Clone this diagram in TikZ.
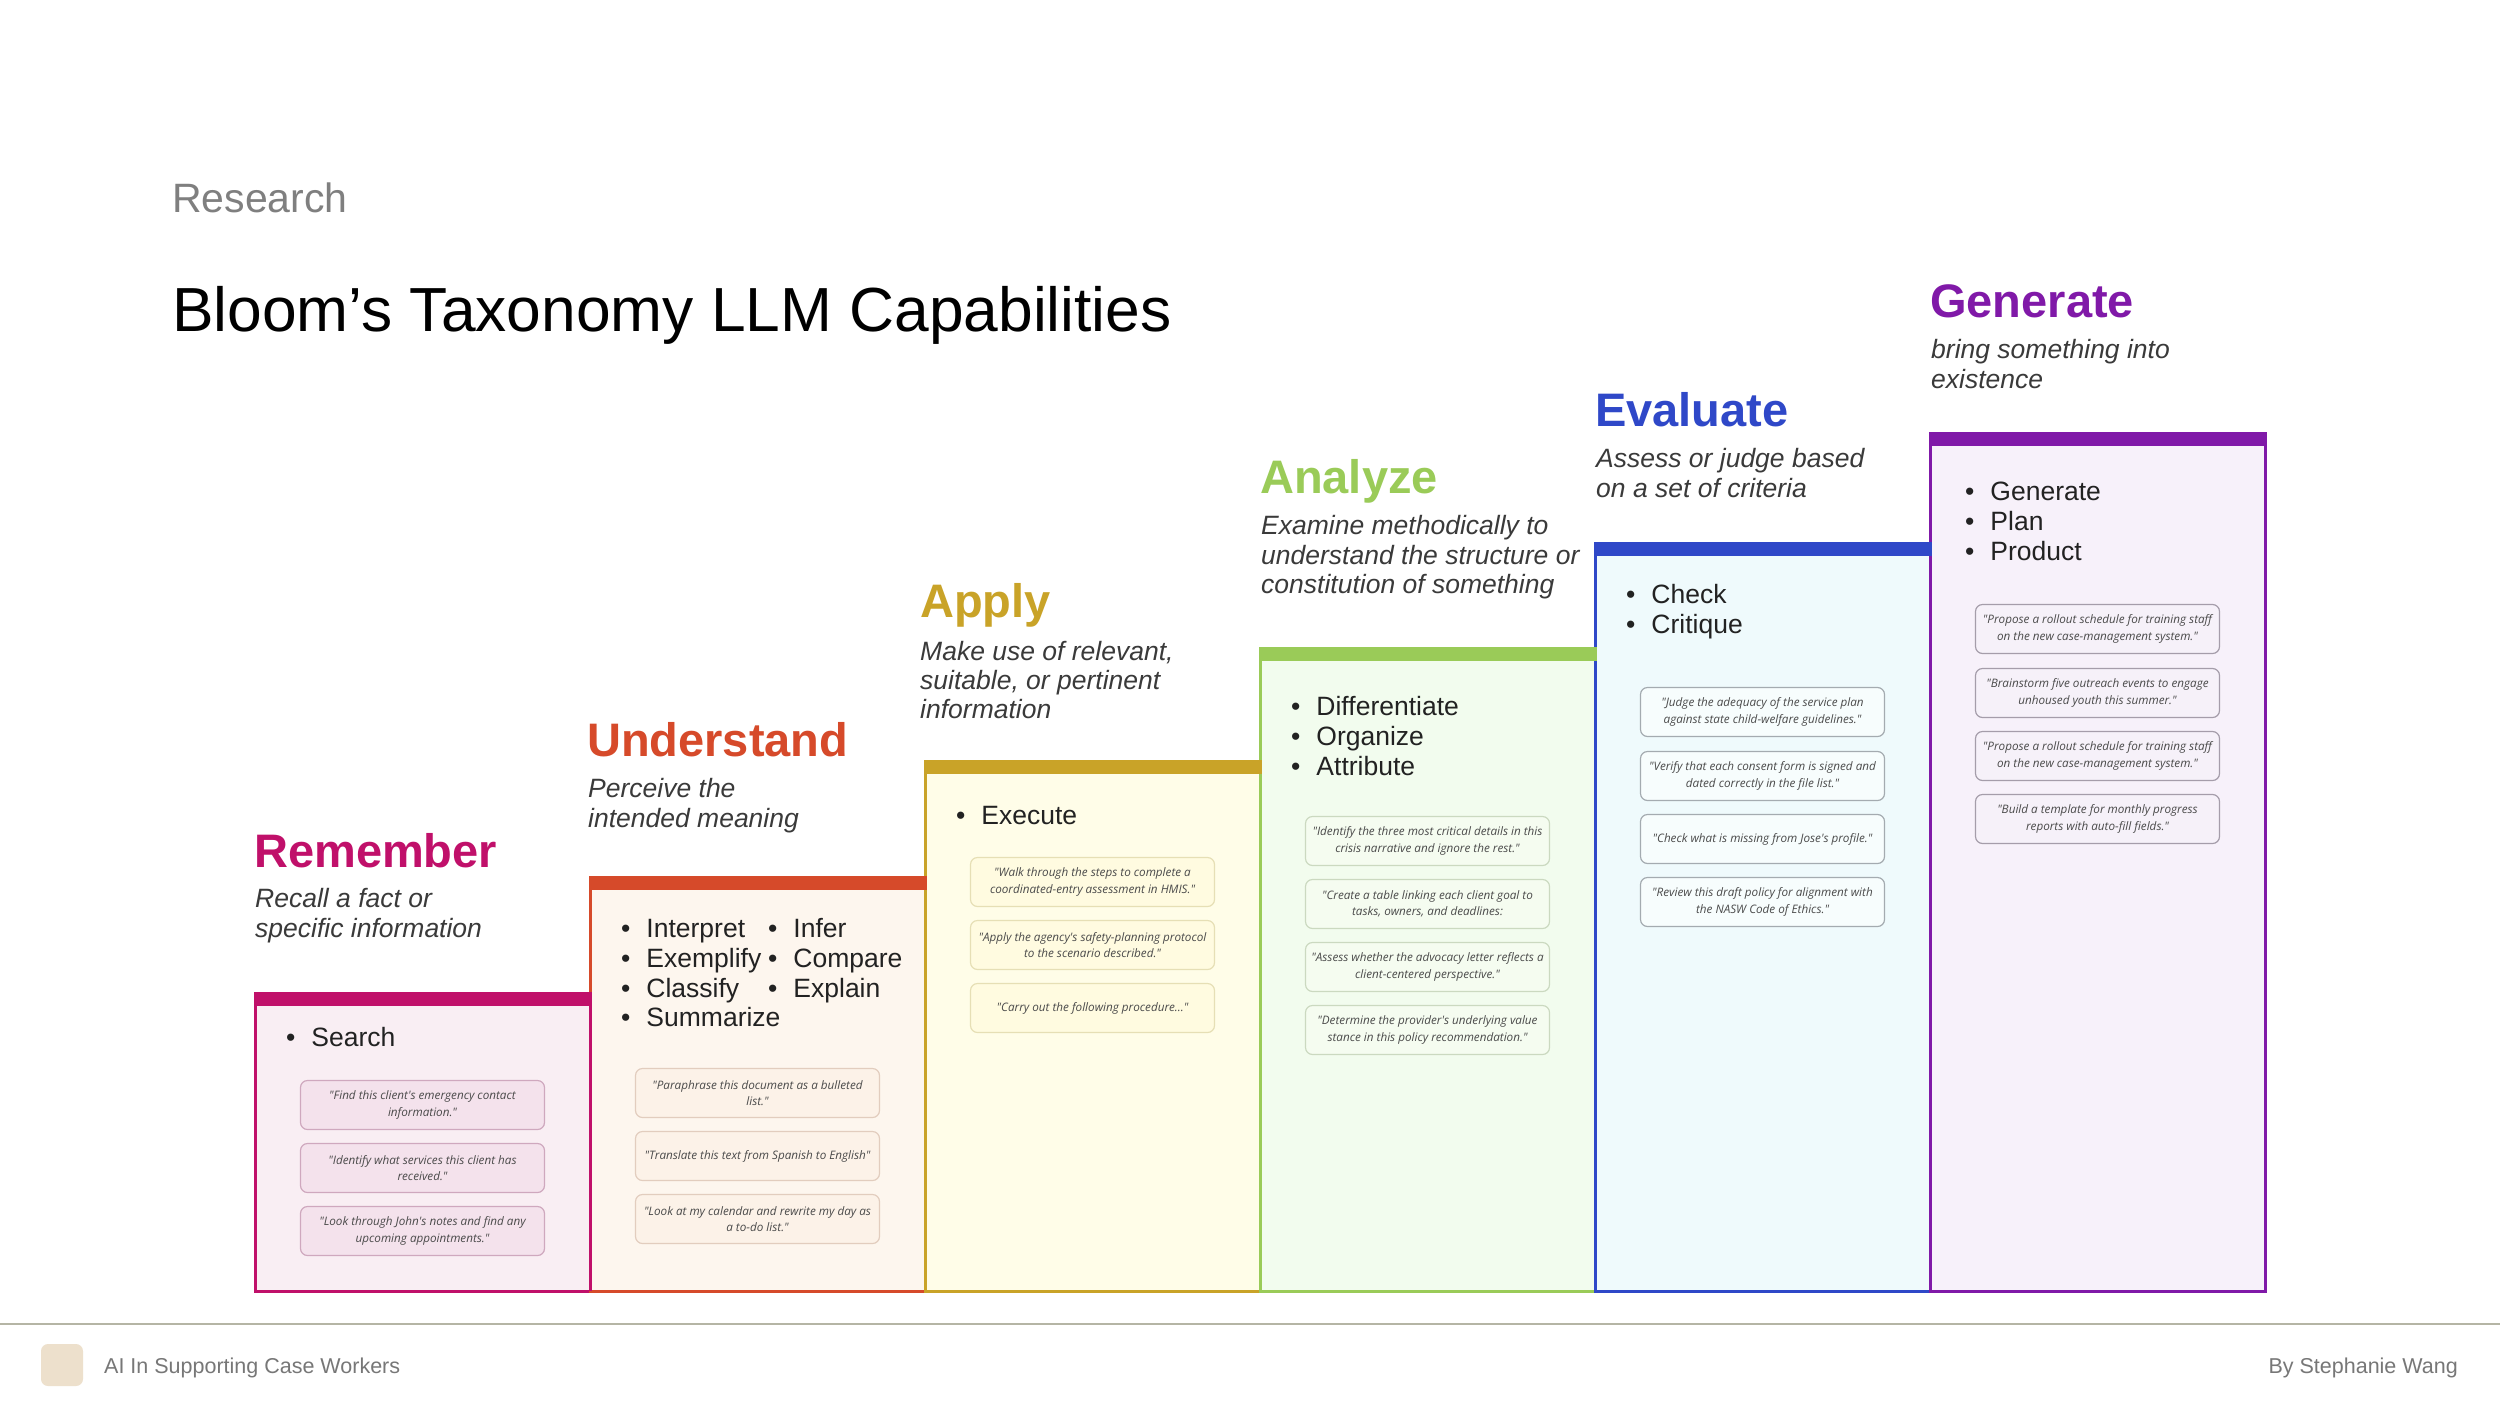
\documentclass[tikz,border=0pt]{standalone}
\usepackage{fontspec}
\setmainfont{Liberation Sans}
\newfontfamily\qfont{Open Sans}
\definecolor{cRem}{HTML}{C0106A}
\definecolor{fRem}{HTML}{F9EEF3}
\definecolor{qRem}{HTML}{F4E2EC}
\definecolor{bRem}{HTML}{CFA8BE}
\definecolor{cUnd}{HTML}{D64A2A}
\definecolor{fUnd}{HTML}{FDF6EE}
\definecolor{qUnd}{HTML}{FCF2E8}
\definecolor{bUnd}{HTML}{E2CDBE}
\definecolor{cApp}{HTML}{C9A328}
\definecolor{fApp}{HTML}{FFFDE8}
\definecolor{qApp}{HTML}{FFFBE0}
\definecolor{bApp}{HTML}{E6DFB5}
\definecolor{cAna}{HTML}{9ACB58}
\definecolor{fAna}{HTML}{F2FCEE}
\definecolor{qAna}{HTML}{F5FCF0}
\definecolor{bAna}{HTML}{CBD9C0}
\definecolor{cEva}{HTML}{2F48C8}
\definecolor{fEva}{HTML}{EFFAFC}
\definecolor{qEva}{HTML}{F7FDFD}
\definecolor{bEva}{HTML}{A4ABB0}
\definecolor{cGen}{HTML}{8019A8}
\definecolor{fGen}{HTML}{F7F1FA}
\definecolor{qGen}{HTML}{F6F1F9}
\definecolor{bGen}{HTML}{A59DAA}
\definecolor{dtext}{HTML}{3A3A3A}
\definecolor{btext}{HTML}{222222}
\definecolor{qtext}{HTML}{4A4A4A}
\definecolor{graytxt}{HTML}{7F7F7F}
\definecolor{foottxt}{HTML}{777777}
\definecolor{footline}{HTML}{B5B5A5}
\definecolor{sqcol}{HTML}{EDE0CC}
\newcommand\bul{\textbullet\hspace{16pt}}
\tikzset{
 hd/.style={anchor=base west, inner sep=0pt, font=\fontsize{47}{50}\selectfont\bfseries},
 ds/.style={anchor=base west, inner sep=0pt, font=\fontsize{26.5}{30}\selectfont\itshape, text=dtext},
 bl/.style={anchor=base west, inner sep=0pt, font=\fontsize{26.5}{30}\selectfont, text=btext},
 qb/.style={rounded corners=7pt, minimum width=244pt, minimum height=49pt, inner sep=0pt, align=center, font=\qfont\itshape\fontsize{11.7}{16.5}\selectfont, text=qtext, line width=1.2pt},
 border/.style={line width=3pt},
}
\begin{document}
\begin{tikzpicture}[x=1pt,y=-1pt]
\useasboundingbox (0,0) rectangle (2500,1406);
\fill[white] (0,0) rectangle (2500,1406);

% header
\node[anchor=base west, inner sep=0pt, font=\fontsize{41}{44}\selectfont, text=graytxt] (research) at (172,212) {Research};
\node[anchor=base west, inner sep=0pt, font=\fontsize{62.3}{66}\selectfont] (title) at (172,331) {Bloom’s Taxonomy LLM Capabilities};

% columns
\fill[fRem] (255,992) rectangle (590,1291);
\draw[cRem, border] (255,992) -- (255,1291) -- (590,1291) -- (590,992);
\fill[fUnd] (590,876) rectangle (925,1291);
\draw[cUnd, border] (590,876) -- (590,1291) -- (925,1291) -- (925,876);
\draw[cRem, border] (590,992) -- (590,1291);
\fill[fApp] (925,760) rectangle (1260,1291);
\draw[cApp, border] (925,760) -- (925,1291) -- (1260,1291) -- (1260,760);
\fill[fAna] (1260,647) rectangle (1595,1291);
\draw[cAna, border] (1260,647) -- (1260,1291) -- (1595,1291) -- (1595,647);
\fill[fEva] (1595,542) rectangle (1930,1291);
\draw[cEva, border] (1595,542) -- (1595,1291) -- (1930,1291) -- (1930,542);
\fill[fGen] (1930,432) rectangle (2265,1291);
\draw[cGen, border] (1930,432) -- (1930,1291) -- (2265,1291) -- (2265,432);

% bars
\fill[cRem] (253.5,992) rectangle (591.5,1006);
\fill[cUnd] (588.5,876) rectangle (926.5,890);
\fill[cApp] (923.5,760) rectangle (1261.5,774);
\fill[cAna] (1258.5,647) rectangle (1596.5,661);
\fill[cEva] (1593.5,542) rectangle (1931.5,556);
\fill[cGen] (1928.5,432) rectangle (2266.5,446);

% Remember
\node[hd, text=cRem] (remh) at (254,867) {Remember};
\node[ds] (remd1) at (255,907) {Recall a fact or};
\node[ds] (remd2) at (255,937) {specific information};
\node[bl] (remb1) at (286,1046) {\bul Search};
\node[qb, draw=bRem, fill=qRem] (remq1) at (422.5,1105) {"Find this client's emergency contact\\information."};
\node[qb, draw=bRem, fill=qRem] (remq2) at (422.5,1168) {"Identify what services this client has\\received."};
\node[qb, draw=bRem, fill=qRem] (remq3) at (422.5,1231) {"Look through John's notes and find any\\upcoming appointments."};

% Understand
\node[hd, text=cUnd] (undh) at (587,756) {Understand};
\node[ds] (undd1) at (588,797) {Perceive the};
\node[ds] (undd2) at (588,827) {intended meaning};
\node[bl] (undb1) at (621,937) {\bul Interpret};
\node[bl] (undb2) at (621,967) {\bul Exemplify};
\node[bl] (undb3) at (621,997) {\bul Classify};
\node[bl] (undb4) at (621,1026) {\bul Summarize};
\node[bl] (undb5) at (768,937) {\bul Infer};
\node[bl] (undb6) at (768,967) {\bul Compare};
\node[bl] (undb7) at (768,997) {\bul Explain};
\node[qb, draw=bUnd, fill=qUnd] (undq1) at (757.5,1093) {"Paraphrase this document as a bulleted\\list."};
\node[qb, draw=bUnd, fill=qUnd] (undq2) at (757.5,1156) {"Translate this text from Spanish to English"};
\node[qb, draw=bUnd, fill=qUnd] (undq3) at (757.5,1219) {"Look at my calendar and rewrite my day as\\a to-do list."};

% Apply
\node[hd, text=cApp] (apph) at (920,617) {Apply};
\node[ds] (appd1) at (920,660) {Make use of relevant,};
\node[ds] (appd2) at (920,689) {suitable, or pertinent};
\node[ds] (appd3) at (920,718) {information};
\node[bl] (appb1) at (956,824) {\bul Execute};
\node[qb, draw=bApp, fill=qApp] (appq1) at (1092.5,882) {"Walk through the steps to complete a\\coordinated-entry assessment in HMIS."};
\node[qb, draw=bApp, fill=qApp] (appq2) at (1092.5,945) {"Apply the agency's safety-planning protocol\\to the scenario described."};
\node[qb, draw=bApp, fill=qApp] (appq3) at (1092.5,1008) {"Carry out the following procedure..."};

% Analyze
\node[hd, text=cAna] (anah) at (1260,493) {Analyze};
\node[ds] (anad1) at (1261,534) {Examine methodically to};
\node[ds] (anad2) at (1261,564) {understand the structure or};
\node[ds] (anad3) at (1261,593) {constitution of something};
\node[bl] (anab1) at (1291,715) {\bul Differentiate};
\node[bl] (anab2) at (1291,745) {\bul Organize};
\node[bl] (anab3) at (1291,775) {\bul Attribute};
\node[qb, draw=bAna, fill=qAna] (anaq1) at (1427.5,841) {"Identify the three most critical details in this\\crisis narrative and ignore the rest."};
\node[qb, draw=bAna, fill=qAna] (anaq2) at (1427.5,904) {"Create a table linking each client goal to\\tasks, owners, and deadlines:};
\node[qb, draw=bAna, fill=qAna] (anaq3) at (1427.5,967) {"Assess whether the advocacy letter reflects a\\client-centered perspective."};
\node[qb, draw=bAna, fill=qAna] (anaq4) at (1427.5,1030) {"Determine the provider's underlying value\\stance in this policy recommendation."};

% Evaluate
\node[hd, text=cEva] (evah) at (1595,426) {Evaluate};
\node[ds] (evad1) at (1596,467) {Assess or judge based};
\node[ds] (evad2) at (1596,497) {on a set of criteria};
\node[bl] (evab1) at (1626,603) {\bul Check};
\node[bl] (evab2) at (1626,633) {\bul Critique};
\node[qb, draw=bEva, fill=qEva] (evaq1) at (1762.5,712) {"Judge the adequacy of the service plan\\against state child-welfare guidelines."};
\node[qb, draw=bEva, fill=qEva] (evaq2) at (1762.5,776) {"Verify that each consent form is signed and\\dated correctly in the file list."};
\node[qb, draw=bEva, fill=qEva] (evaq3) at (1762.5,839) {"Check what is missing from Jose's profile."};
\node[qb, draw=bEva, fill=qEva] (evaq4) at (1762.5,902) {"Review this draft policy for alignment with\\the NASW Code of Ethics."};

% Generate
\node[hd, text=cGen] (genh) at (1930,317) {Generate};
\node[ds] (gend1) at (1931,358) {bring something into};
\node[ds] (gend2) at (1931,388) {existence};
\node[bl] (genb1) at (1965,500) {\bul Generate};
\node[bl] (genb2) at (1965,530) {\bul Plan};
\node[bl] (genb3) at (1965,560) {\bul Product};
\node[qb, draw=bGen, fill=qGen] (genq1) at (2097.5,629) {"Propose a rollout schedule for training staff\\on the new case-management system."};
\node[qb, draw=bGen, fill=qGen] (genq2) at (2097.5,693) {"Brainstorm five outreach events to engage\\unhoused youth this summer."};
\node[qb, draw=bGen, fill=qGen] (genq3) at (2097.5,756) {"Propose a rollout schedule for training staff\\on the new case-management system."};
\node[qb, draw=bGen, fill=qGen] (genq4) at (2097.5,819) {"Build a template for monthly progress\\reports with auto-fill fields."};

% footer
\draw[footline, line width=2pt] (0,1324) -- (2500,1324);
\node[fill=sqcol, rounded corners=7pt, minimum size=42pt, inner sep=0pt] (sq) at (62,1365) {};
\node[anchor=base west, inner sep=0pt, font=\fontsize{21.5}{24}\selectfont, text=foottxt] (footl) at (104,1373) {AI In Supporting Case Workers};
\node[anchor=base east, inner sep=0pt, font=\fontsize{21.5}{24}\selectfont, text=foottxt] (footr) at (2458,1373) {By Stephanie Wang};
\end{tikzpicture}
\end{document}
